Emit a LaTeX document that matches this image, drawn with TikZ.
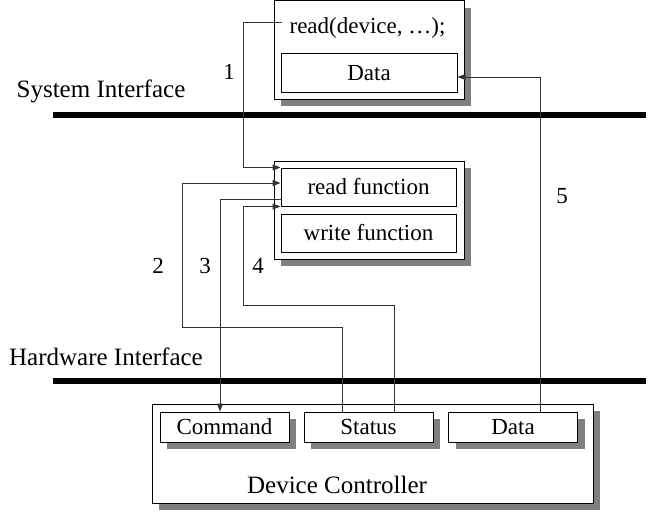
\documentclass[tikz,border=0pt]{standalone}
\usepackage{fontspec}
\setmainfont{Liberation Serif}
\usetikzlibrary{arrows.meta,shadows}

\tikzset{
    box/.style={draw, fill=white, line width=1pt, inner sep=0pt},
    shadowed/.style={drop shadow={shadow xshift=7pt, shadow yshift=-7pt, fill=black!50, opacity=1}},
    reg/.style={box, shadowed, minimum width=129pt, minimum height=30pt, font=\fontsize{23}{27}\selectfont},
    wire/.style={line width=1pt, black!80},
    arr/.style={wire, -{Triangle[length=8pt, width=6pt]}},
    bus/.style={line width=6pt},
    lbl/.style={font=\fontsize{25}{29}\selectfont, inner sep=0pt},
    num/.style={font=\fontsize{23}{27}\selectfont, inner sep=0pt}
}

\begin{document}
\begin{tikzpicture}[x=1pt, y=-1pt]
        \useasboundingbox (0,0) rectangle (650,511);

        % interfaces
        \draw[bus] (53,115) coordinate (sysl) -- (646,115) coordinate (sysr);
        \draw[bus] (53,381) coordinate (hwl) -- (646,381) coordinate (hwr);
        \node[lbl] (syslabel) at (101,91) {System Interface};
        \node[lbl] (hwlabel) at (106,357) {Hardware Interface};

        % user program
        \node[box, shadowed, minimum width=190pt, minimum height=98pt] (prog) at (369,50) {};
        \node[num] (readcall) at (367.5,28) {read(device, …);};
        \node[box, minimum width=176pt, minimum height=38pt, font=\fontsize{23}{27}\selectfont] (topdata) at (369,73) {Data};
        \coordinate (callout) at (282,23);

        % driver
        \node[box, shadowed, minimum width=190pt, minimum height=98pt] (driver) at (369,210) {};
        \node[box, minimum width=175pt, minimum height=38pt, font=\fontsize{23}{27}\selectfont] (readfn) at (368.5,187) {read function};
        \node[box, minimum width=175pt, minimum height=38pt, font=\fontsize{23}{27}\selectfont] (writefn) at (368.5,233) {write function};

        % device controller
        \node[box, shadowed, minimum width=441pt, minimum height=99pt] (ctrl) at (372.5,453.5) {};
        \node[lbl] (ctrllabel) at (337,485) {Device Controller};
        \foreach \name/\txt/\x in {cmd/Command/224.5, status/Status/368.5, devdata/Data/513}
            \node[reg] (\name) at (\x,427) {\txt};

        % steps
        \foreach \k/\x/\y in {1/229/72, 2/158/266, 3/205/266, 4/258/266, 5/562/196}
            \node[num] (step\k) at (\x,\y) {\k};

        \draw[arr] (callout) -- (243,23) |- (readfn.north west);
        \draw[arr] ([xshift=39pt]status.north west) |- (182,327) |- ([yshift=4pt]readfn.west);
        \draw[arr] ([yshift=-12pt]readfn.west) -| ([xshift=-4.5pt]cmd.north);
        \draw[arr] ([xshift=91pt]status.north west) |- (243,305) |- (readfn.south west);
        \draw[arr] ([xshift=92pt]devdata.north west) |- ([yshift=-4pt]topdata.east);

    \end{tikzpicture}
\end{document}
